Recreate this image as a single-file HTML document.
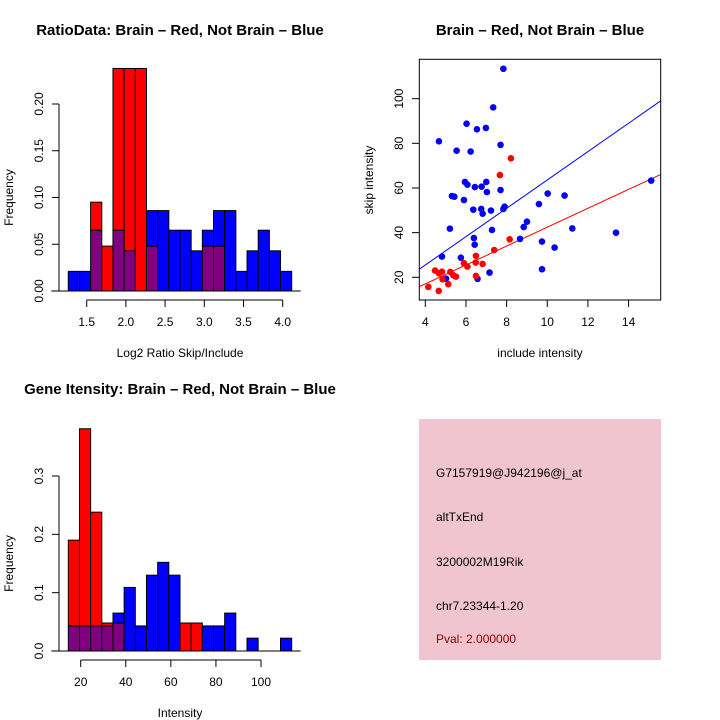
<!DOCTYPE html>
<html><head><meta charset="utf-8"><style>
body{margin:0;background:#fff}
svg{display:block;font-family:"Liberation Sans",sans-serif}
</style></head><body>
<svg id="s" width="720" height="720" xmlns="http://www.w3.org/2000/svg">
<rect width="720" height="720" fill="#fff"/>
<text x="180" y="35" font-size="15" font-weight="bold" text-anchor="middle">RatioData: Brain – Red, Not Brain – Blue</text>
<text x="540" y="35" font-size="15" font-weight="bold" text-anchor="middle">Brain – Red, Not Brain – Blue</text>
<text x="180" y="394" font-size="15" font-weight="bold" text-anchor="middle">Gene Itensity: Brain – Red, Not Brain – Blue</text>
<g>
<rect x="419" y="419" width="242" height="241" fill="#f1c5cf"/>
<text x="436" y="477" font-size="12">G7157919@J942196@j_at</text>
<text x="436" y="521" font-size="12">altTxEnd</text>
<text x="436" y="566" font-size="12">3200002M19Rik</text>
<text x="436" y="610" font-size="12">chr7.23344-1.20</text>
<text x="436" y="643" font-size="12" fill="#8b0000">Pval: 2.000000</text>
</g>
</svg>
<script>
// ---- Histogram 1 data ----
const h1Start = 1.265, h1Width = 0.1425;
const h1Blue = [.021,.021,.065,0,.065,.043,0,.086,.086,.065,.065,.043,.065,.086,.086,.021,.043,.065,.043,.021];
const h1Red  = [0,0,.095,.048,.238,.238,.238,.048,0,0,0,0,.048,.048,0,0,0,0,0,0];
const h1XTicks = [1.5,2.0,2.5,3.0,3.5,4.0];
const h1XLabels = ["1.5","2.0","2.5","3.0","3.5","4.0"];
const h1YTicks = [0,0.05,0.10,0.15,0.20];
const h1YLabels = ["0.00","0.05","0.10","0.15","0.20"];
// ---- Histogram 2 data ----
const h2Start = 14.5, h2Width = 4.955;
const h2Blue = [.043,.043,.043,.043,.065,.109,.043,.13,.152,.13,0,0,.043,.043,.065,0,.022,0,0,.022];
const h2Red  = [.19,.381,.238,.048,.048,0,0,0,0,0,.048,.048,0,0,0,0,0,0,0,0];
const h2XTicks = [20,40,60,80,100];
const h2XLabels = ["20","40","60","80","100"];
const h2YTicks = [0,0.1,0.2,0.3];
const h2YLabels = ["0.0","0.1","0.2","0.3"];
// ---- Scatter data ----
const blueX = [7.84,7.34,6.03,6.54,6.98,4.67,5.54,6.23,7.70,5.95,6.07,6.44,6.77,7.0,7.03,7.70,5.31,5.43,5.90,6.36,6.75,6.82,7.23,7.84,7.90,9.59,10.02,10.85,5.21,7.28,11.23,13.38,8.84,9.0,8.66,6.39,6.43,9.74,10.36,4.82,5.75,5.02,6.57,7.16,9.74,15.11];
const blueY = [113.4,96.1,88.8,86.3,86.9,80.9,76.7,76.3,79.3,62.7,61.5,60.4,60.6,62.7,58.2,59.1,56.4,56.1,54.6,50.3,50.6,48.5,49.9,50.6,51.6,52.8,57.5,56.6,41.8,41.2,41.9,40.0,42.5,44.9,37.2,37.6,34.6,36.0,33.3,29.3,28.8,19.4,19.3,22.1,23.6,63.3];
const redX = [8.21,7.67,8.15,7.39,6.49,6.48,6.82,5.90,6.07,4.48,4.67,4.82,4.85,5.23,5.38,5.51,5.13,4.15,4.66,6.49];
const redY = [73.3,65.8,37.0,32.2,29.6,26.6,26.0,26.3,24.8,23.0,21.8,22.5,19.1,22.4,20.9,20.3,16.9,15.7,13.9,20.6];
const blueFit = [0.1, 6.35];   // intercept, slope
const redFit = [0.15, 4.23];
const scXTicks = [4,6,8,10,12,14];
const scYTicks = [20,40,60,80,100];

const svg = document.getElementById('s');
const NS = 'http://www.w3.org/2000/svg';
function mk(tag, attrs, parent){const e=document.createElementNS(NS,tag);for(const k in attrs)e.setAttribute(k,attrs[k]);(parent||svg).appendChild(e);return e;}

function hist(name, start, w, blue, red, sx, sy, base, xTicks, xLabels, yTicks, yLabels, xAxisY, xlab, xlabY){
  const g = mk('g',{});
  
  
  for(let i=0;i<blue.length;i++){
    const x0=sx(start+i*w), x1=sx(start+(i+1)*w);
    const b=blue[i], r=red[i];
    const parts=[];
    const lo=Math.min(b,r), hi=Math.max(b,r);
    if(lo>0) parts.push([0,lo,'#800080']);
    if(hi>lo) parts.push([lo,hi,b>r?'#0000ff':'#ff0000']);
    for(const p of parts){
      const rc = mk('rect',{x:x0,y:sy(p[1]),width:x1-x0,height:sy(p[0])-sy(p[1]),fill:p[2],stroke:'#000','stroke-width':1},g);
      
      
    }
  }
  mk('line',{x1:sx(start)-17,x2:sx(start+blue.length*w)+9,y1:base,y2:base,stroke:'#000','stroke-width':1},g);
  mk('line',{x1:sx(xTicks[0]),x2:sx(xTicks[xTicks.length-1]),y1:xAxisY,y2:xAxisY,stroke:'#000'},g);
  xTicks.forEach((t,i)=>{
    mk('line',{x1:sx(t),x2:sx(t),y1:xAxisY,y2:xAxisY+7,stroke:'#000'},g);
    const tx=mk('text',{x:sx(t),y:xAxisY+26,'font-size':12,'text-anchor':'middle'},g);tx.textContent=xLabels[i];
    
    
  });
  mk('line',{x1:59,x2:59,y1:sy(yTicks[0]),y2:sy(yTicks[yTicks.length-1]),stroke:'#000'},g);
  yTicks.forEach((t,i)=>{
    mk('line',{x1:52,x2:59,y1:sy(t),y2:sy(t),stroke:'#000'},g);
    const tx=mk('text',{x:0,y:0,'font-size':12,'text-anchor':'middle',transform:`translate(43,${sy(t)}) rotate(-90)`},g);tx.textContent=yLabels[i];
    
    
  });
  const xl=mk('text',{x:180,y:xlabY,'font-size':12,'text-anchor':'middle'},g);xl.textContent=xlab;
  
  
  const yl=mk('text',{x:0,y:0,'font-size':12,'text-anchor':'middle',transform:`translate(13,${(sy(yTicks[0])+sy(yTicks[yTicks.length-1]))/2}) rotate(-90)`},g);yl.textContent='Frequency';
  
  
}
hist('ratio-histogram',h1Start,h1Width,h1Blue,h1Red,v=>86.7+(v-1.5)*78.4,v=>291-v*935,291,h1XTicks,h1XLabels,h1YTicks,h1YLabels,300,'Log2 Ratio Skip/Include',357);
hist('intensity-histogram',h2Start,h2Width,h2Blue,h2Red,v=>80.7+(v-20)*2.254,v=>651-v*583.3,651,h2XTicks,h2XLabels,h2YTicks,h2YLabels,660,'Intensity',717);

const sx=v=>425.3+(v-4)*20.33, sy=v=>277.3-(v-20)*2.233;
const sg=mk('g',{});


const clip=mk('clipPath',{id:'cp'},sg);mk('rect',{x:419.3,y:59.3,width:241.4,height:240.7},clip);
[[blueFit,'#0000ff'],[redFit,'#ff0000']].forEach(([f,c])=>{
  const l=mk('line',{x1:sx(3.5),y1:sy(f[0]+f[1]*3.5),x2:sx(16),y2:sy(f[0]+f[1]*16),stroke:c,'stroke-width':1,'clip-path':'url(#cp)'},sg);
  
  
});
blueX.forEach((x,i)=>{const p=mk('circle',{cx:sx(x),cy:sy(blueY[i]),r:3.3,fill:'#0000ff'},sg);
  
  });
redX.forEach((x,i)=>{const p=mk('circle',{cx:sx(x),cy:sy(redY[i]),r:3.3,fill:'#ff0000'},sg);
  
  });
mk('rect',{x:419.3,y:59.3,width:241.4,height:240.7,fill:'none',stroke:'#000'},sg);
scXTicks.forEach(t=>{mk('line',{x1:sx(t),x2:sx(t),y1:300,y2:307,stroke:'#000'},sg);
  const tx=mk('text',{x:sx(t),y:326,'font-size':12,'text-anchor':'middle'},sg);tx.textContent=t;
  
  });
scYTicks.forEach(t=>{mk('line',{x1:412,x2:419.3,y1:sy(t),y2:sy(t),stroke:'#000'},sg);
  const tx=mk('text',{x:0,y:0,'font-size':12,'text-anchor':'middle',transform:`translate(403,${sy(t)}) rotate(-90)`},sg);tx.textContent=t;
  
  });
const sxl=mk('text',{x:540,y:357,'font-size':12,'text-anchor':'middle'},sg);sxl.textContent='include intensity';


const syl=mk('text',{x:0,y:0,'font-size':12,'text-anchor':'middle',transform:'translate(373,180) rotate(-90)'},sg);syl.textContent='skip intensity';


</script>
</body></html>
